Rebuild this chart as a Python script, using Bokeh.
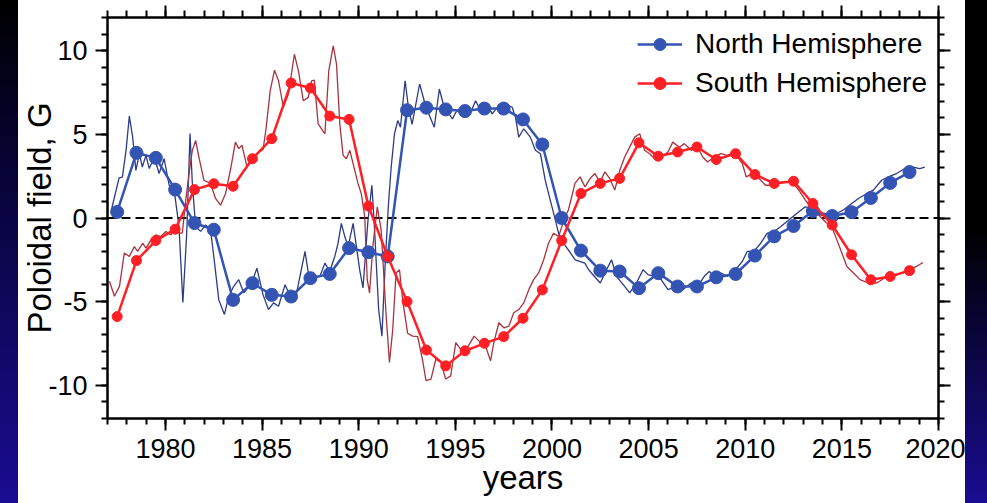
from bokeh.plotting import figure
from bokeh.models import (LinearAxis, Span, Legend, LegendItem, SingleIntervalTicker,
                          Range1d, Div, CustomJSTickFormatter)
from bokeh.layouts import row
from bokeh.embed import file_html
from bokeh.resources import INLINE

# ---- data ----
years_annual = [1977.5, 1978.5, 1979.5, 1980.5, 1981.5, 1982.5, 1983.5, 1984.5, 1985.5,
                1986.5, 1987.5, 1988.5, 1989.5, 1990.5, 1991.5, 1992.5, 1993.5, 1994.5,
                1995.5, 1996.5, 1997.5, 1998.5, 1999.5, 2000.5, 2001.5, 2002.5, 2003.5,
                2004.5, 2005.5, 2006.5, 2007.5, 2008.5, 2009.5, 2010.5, 2011.5, 2012.5,
                2013.5, 2014.5, 2015.5, 2016.5, 2017.5, 2018.5]
north_annual = [0.36, 3.9, 3.6, 1.7, -0.3, -0.7, -4.9, -3.9, -4.6, -4.7, -3.6, -3.35,
                -1.8, -2.05, -2.3, 6.45, 6.6, 6.5, 6.4, 6.55, 6.55, 5.9, 4.4, 0.0,
                -1.95, -3.15, -3.2, -4.2, -3.3, -4.1, -4.1, -3.55, -3.35, -2.25, -1.1,
                -0.48, 0.42, 0.12, 0.35, 1.2, 2.1, 2.75]
south_annual = [-5.9, -2.55, -1.35, -0.67, 1.7, 2.05, 1.9, 3.55, 4.75, 8.08, 7.78, 6.1,
                5.9, 0.71, -2.3, -5.0, -7.9, -8.85, -7.95, -7.5, -7.1, -6.0, -4.3, -1.35,
                1.47, 2.07, 2.37, 4.5, 3.7, 3.95, 4.25, 3.5, 3.85, 2.6, 2.07, 2.2, 0.87,
                -0.42, -2.2, -3.7, -3.5, -3.15]

north_t = [1977.2, 1977.6, 1977.77, 1977.96, 1978.13, 1978.3, 1978.47, 1978.65, 1978.8,
           1978.99, 1979.16, 1979.42, 1979.67, 1979.93, 1980.19, 1980.45, 1980.7, 1980.9,
           1981.1, 1981.27, 1981.39, 1981.56, 1981.82, 1982.08, 1982.33, 1982.5, 1982.76,
           1983.05, 1983.28, 1983.53, 1983.79, 1984.05, 1984.47, 1984.73, 1985.05, 1985.33,
           1985.59, 1985.85, 1986.19, 1986.45, 1986.7, 1986.96, 1987.22, 1987.39, 1987.65,
           1987.99, 1988.25, 1988.5, 1988.76, 1988.93, 1989.1, 1989.28, 1989.45, 1989.71,
           1989.88, 1990.05, 1990.22, 1990.48, 1990.68, 1990.82, 1991.03, 1991.2, 1991.37,
           1991.54, 1991.68, 1991.85, 1992.02, 1992.16, 1992.4, 1992.57, 1992.76, 1993.15,
           1993.48, 1993.91, 1994.17, 1994.42, 1994.85, 1995.02, 1995.45, 1995.79, 1996.05,
           1996.3, 1996.65, 1996.9, 1997.25, 1997.59, 1997.94, 1998.11, 1998.28, 1998.54,
           1998.88, 1999.14, 1999.4, 1999.65, 1999.91, 2000.13, 2000.34, 2000.6, 2001.2,
           2001.7, 2001.9, 2002.2, 2002.5, 2002.74, 2003.08, 2003.34, 2003.76, 2004.02,
           2004.37, 2004.71, 2004.97, 2005.31, 2005.65, 2006.0, 2006.42, 2006.77, 2007.2,
           2007.54, 2007.88, 2008.14, 2008.48, 2008.74, 2009.08, 2009.42, 2009.85, 2010.1,
           2010.45, 2010.8, 2011.14, 2011.48, 2011.83, 2012.25, 2012.68, 2013.11, 2013.45,
           2013.88, 2014.23, 2014.74, 2015.08, 2015.51, 2015.86, 2016.29, 2016.63, 2017.06,
           2017.4, 2017.83, 2018.26, 2018.68, 2019.03, 2019.29]
north_v = [0.48, 2.4, 2.45, 4.05, 6.1, 4.85, 2.85, 3.85, 3.05,
           3.75, 2.96, 3.65, 2.66, 3.55, 1.96, 1.67, -0.52, -5.06,
           -0.9, 5.05, 2.07, -0.52, -0.8, -0.42, -0.7, -2.3, -4.9,
           -5.77, -4.68, -4.09, -3.69, -4.48, -3.89, -3.0, -4.6, -5.48,
           -5.08, -5.28, -3.99, -4.68, -4.98, -3.49, -2.0, -3.29, -3.59,
           -3.49, -2.7, -3.19, -2.3, -1.51, -0.32, -1.11, -1.71, -0.32,
           -1.71, -3.1, -4.19, -0.12, 1.96, -0.71, -5.48, -7.07, -2.7,
           0.87, 3.05, 5.04, 5.83, 5.43, 8.21, 6.63, 5.6, 8.02,
           6.63, 5.43, 7.72, 6.63, 5.93, 6.33, 6.53, 6.33, 7.02,
           6.43, 6.83, 6.23, 6.73, 6.83, 6.63, 6.03, 4.84, 5.34,
           4.84, 4.05, 3.85, 2.26, 1.07, 0.08, -0.91, -1.51, -2.5,
           -2.7, -3.1, -3.5, -3.89, -3.29, -2.5, -3.49, -4.09, -4.48,
           -3.89, -3.1, -3.39, -3.49, -3.69, -4.29, -4.09, -4.29, -3.89,
           -4.09, -3.49, -3.2, -3.59, -3.29, -3.49, -3.2, -2.6, -2.0,
           -2.0, -1.51, -0.91, -0.81, -0.52, -0.12, 0.28, 0.67, 0.58,
           0.18, 0.08, 0.28, 0.48, 0.87, 1.17, 1.47, 1.67, 2.26,
           2.46, 2.66, 2.96, 3.05, 2.96, 3.05]

south_t = [1977.1, 1977.36, 1977.62, 1977.87, 1978.13, 1978.39, 1978.56, 1978.82, 1978.99,
           1979.25, 1979.5, 1979.76, 1980.02, 1980.28, 1980.48, 1980.7, 1980.87, 1981.05,
           1981.22, 1981.39, 1981.56, 1981.73, 1981.99, 1982.33, 1982.59, 1982.85, 1983.11,
           1983.36, 1983.62, 1983.79, 1983.96, 1984.22, 1984.47, 1984.73, 1985.05, 1985.2,
           1985.42, 1985.64, 1985.85, 1986.1, 1986.36, 1986.67, 1986.88, 1987.13, 1987.39,
           1987.56, 1987.7, 1987.9, 1988.25, 1988.45, 1988.68, 1988.85, 1989.02, 1989.19,
           1989.36, 1989.54, 1989.79, 1989.96, 1990.13, 1990.31, 1990.44, 1990.56, 1990.73,
           1990.96, 1991.16, 1991.42, 1991.59, 1991.76, 1991.93, 1992.11, 1992.28, 1992.53,
           1992.79, 1993.05, 1993.31, 1993.48, 1993.74, 1993.99, 1994.25, 1994.5, 1994.76,
           1995.02, 1995.28, 1995.62, 1995.97, 1996.31, 1996.56, 1996.82, 1996.99, 1997.25,
           1997.51, 1997.77, 1998.02, 1998.28, 1998.54, 1998.8, 1999.05, 1999.31, 1999.57,
           1999.82, 2000.08, 2000.34, 2000.68, 2000.85, 2001.19, 2001.45, 2001.71, 2001.97,
           2002.22, 2002.48, 2002.74, 2002.99, 2003.25, 2003.51, 2003.76, 2004.02, 2004.28,
           2004.54, 2004.79, 2005.05, 2005.4, 2005.65, 2006.0, 2006.25, 2006.6, 2006.85,
           2007.2, 2007.54, 2007.8, 2008.05, 2008.4, 2008.74, 2009.08, 2009.42, 2009.85,
           2010.05, 2010.37, 2010.71, 2011.05, 2011.48, 2011.91, 2012.42, 2012.77, 2013.11,
           2013.45, 2013.8, 2014.14, 2014.48, 2014.74, 2015.0, 2015.26, 2015.6, 2015.94,
           2016.37, 2016.8, 2017.22, 2017.65, 2018.08, 2018.51, 2018.85, 2019.2]
south_v = [-3.79, -4.68, -4.09, -2.1, -2.3, -1.71, -2.0, -1.51, -1.8,
           -1.31, -1.01, -1.11, -0.81, -1.01, -0.52, -0.91, -0.91, 1.07,
           2.66, 4.05, 4.64, 3.65, 2.26, 2.07, 1.17, 0.77, 1.47,
           2.86, 4.54, 4.15, 4.35, 3.05, 3.55, 3.85, 4.1, 5.3,
           7.62, 8.85, 8.21, 6.63, 7.42, 9.8, 8.81, 7.02, 7.22,
           8.21, 8.25, 5.64, 5.04, 8.81, 10.3, 9.21, 5.64, 3.75,
           3.55, 4.05, 2.86, 2.07, 1.47, 0.08, -3.69, -4.48, -1.71,
           0.67, -0.71, -5.87, -8.65, -6.67, -3.29, -3.1, -4.98, -6.9,
           -7.07, -7.1, -8.55, -9.74, -9.64, -8.45, -8.65, -9.64, -9.45,
           -7.46, -7.86, -7.76, -7.07, -7.46, -7.66, -8.55, -7.46, -6.27,
           -6.57, -6.47, -5.67, -5.48, -5.08, -4.29, -3.69, -3.29, -2.5,
           -1.51, -0.91, -1.11, 0.08, 0.48, 2.07, 2.46, 1.86, 2.36,
           2.66, 2.16, 2.76, 2.36, 1.67, 2.86, 3.65, 4.24, 4.84,
           5.04, 4.05, 3.85, 3.45, 3.65, 3.95, 4.54, 4.24, 4.45,
           4.05, 4.24, 3.65, 3.35, 3.65, 3.85, 3.75, 3.95, 3.25,
           2.46, 2.66, 2.36, 1.96, 1.96, 2.16, 2.16, 1.67, 1.07,
           0.58, 0.18, -0.22, -0.52, -1.31, -2.1, -2.9, -3.29, -3.69,
           -3.89, -3.89, -3.59, -3.49, -3.29, -3.1, -2.9, -2.66]

labels = ["North Hemisphere", "South Hemisphere"]
x_title = "years"
y_title = "Poloidal field, G"

FONT = "Liberation Sans"
TICK_FS = "27px"
TITLE_FS = "33px"
LEG_FS = "28px"

p = figure(width=947, height=503, output_backend="svg", toolbar_location=None,
           x_range=Range1d(1977, 2020), y_range=Range1d(-12, 12),
           min_border_left=85, min_border_right=27, min_border_top=17, min_border_bottom=85,
           margin=0)
p.background_fill_color = "white"
p.border_fill_color = "white"
p.outline_line_color = "black"
p.outline_line_width = 2
p.xgrid.visible = False
p.ygrid.visible = False

xt = SingleIntervalTicker(interval=5, num_minor_ticks=5)
yt = SingleIntervalTicker(interval=5, num_minor_ticks=5)
fmt = CustomJSTickFormatter(code="return tick.toFixed(0);")


def style_axis(ax, ticker, labels_on, tick_out, minor_out):
    ax.ticker = ticker
    ax.axis_line_color = "black"
    ax.axis_line_width = 2
    ax.major_tick_line_color = "black"
    ax.major_tick_line_width = 2
    ax.minor_tick_line_color = "black"
    ax.minor_tick_line_width = 2
    ax.major_tick_in = 0
    ax.minor_tick_in = 0
    ax.major_tick_out = tick_out
    ax.minor_tick_out = minor_out
    if labels_on:
        ax.formatter = fmt
        ax.major_label_text_font = FONT
        ax.major_label_text_font_size = TICK_FS
        ax.major_label_text_color = "black"
        ax.major_label_standoff = 8
        ax.axis_label_text_font = FONT
        ax.axis_label_text_font_size = TITLE_FS
        ax.axis_label_text_font_style = "normal"
        ax.axis_label_text_color = "black"
    else:
        ax.major_label_text_color = None
        ax.major_label_standoff = 0


style_axis(p.xaxis[0], xt, True, 12, 6)
style_axis(p.yaxis[0], yt, True, 12, 6)
p.xaxis[0].axis_label = x_title
p.yaxis[0].axis_label = y_title
p.xaxis[0].axis_label_standoff = -2
p.yaxis[0].axis_label_standoff = -13

top_ax = LinearAxis()
style_axis(top_ax, xt, False, 12, 7)
p.add_layout(top_ax, "above")
right_ax = LinearAxis()
style_axis(right_ax, yt, False, 12, 6)
p.add_layout(right_ax, "right")

zero = Span(location=0, dimension="width", line_color="black", line_width=2,
            line_dash="9 5", level="underlay")
p.add_layout(zero)

N_THIN = "#2b3b88"
N_THICK = "#3454b4"
S_THIN = "#a8323e"
S_THICK = "#ff1f24"

p.line(north_t, north_v, line_color=N_THIN, line_width=1.3)
p.line(south_t, south_v, line_color=S_THIN, line_width=1.3)
ln = p.line(years_annual, north_annual, line_color=N_THICK, line_width=2.5)
dn = p.scatter(years_annual, north_annual, size=13, marker="circle",
               fill_color=N_THICK, line_color=N_THICK)
ls = p.line(years_annual, south_annual, line_color=S_THICK, line_width=2.5)
ds = p.scatter(years_annual, south_annual, size=10, marker="circle",
               fill_color=S_THICK, line_color=S_THICK)

legend = Legend(items=[LegendItem(label=labels[0], renderers=[ln, dn]),
                       LegendItem(label=labels[1], renderers=[ls, ds])],
                location="top_right")
legend.label_text_font = FONT
legend.label_text_font_size = LEG_FS
legend.label_text_color = "black"
legend.glyph_width = 45
legend.glyph_height = 30
legend.label_standoff = 13
legend.spacing = 7
legend.padding = 6
legend.margin = 11
legend.border_line_color = None
legend.background_fill_alpha = 0
p.add_layout(legend)

left_strip = Div(text="", width=18, height=503, margin=0,
                 styles={"background": "linear-gradient(to bottom, #000000 0%, #060330 30%, #1a0c92 100%)"})
right_strip = Div(text="", width=22, height=503, margin=0,
                  styles={"background": "linear-gradient(to bottom, #000000 0%, #000000 45%, #1a0c92 100%)"})

layout = row(left_strip, p, right_strip, spacing=0, margin=0)

open("out.html", "w").write(file_html(layout, INLINE))
